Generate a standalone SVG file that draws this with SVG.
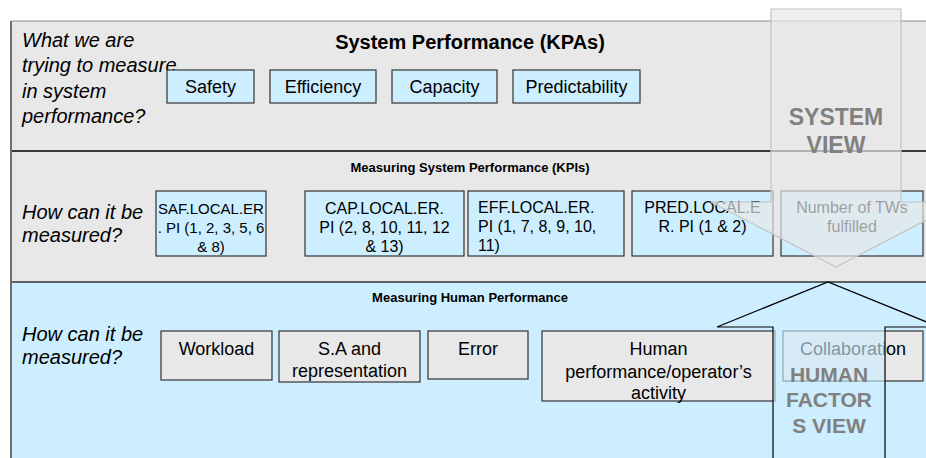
<svg xmlns="http://www.w3.org/2000/svg" width="926" height="458" viewBox="0 0 926 458">
<style>
text{font-family:"Liberation Sans",Arial,sans-serif;}
.q{font-style:italic;font-size:20px;fill:#000;}
.h{font-weight:bold;font-size:13px;text-anchor:middle;}
.kb{fill:#cceeff;stroke:#333;stroke-width:1.2;}
.gb{fill:#e8e8e8;stroke:#333;stroke-width:1.2;}
.t18{font-size:18px;text-anchor:middle;}
.t16{font-size:16px;text-anchor:middle;}
.view{font-weight:bold;fill:#808080;text-anchor:middle;}
</style>
<rect width="926" height="458" fill="#fff"/>
<g id="panel-kpa">
<rect x="11" y="21" width="915" height="130" fill="#e8e8e8"/>
<line x1="11" y1="21" x2="926" y2="21" stroke="#8c8c8c" stroke-width="1.2"/>
<text class="q" x="22" y="47">What we are</text>
<text class="q" x="22" y="72">trying to measure</text>
<text class="q" x="22" y="98">in system</text>
<text class="q" x="22" y="123">performance?</text>
<text x="470" y="49" font-size="20" font-weight="bold" text-anchor="middle">System Performance (KPAs)</text>
</g>
<g id="panel-kpi">
<rect x="11" y="151" width="915" height="131" fill="#e8e8e8"/>
<text class="h" x="470" y="172">Measuring System Performance (KPIs)</text>
<text class="q" x="22" y="219">How can it be</text>
<text class="q" x="22" y="242">measured?</text>
</g>
<g id="panel-human">
<rect x="11" y="282" width="915" height="176" fill="#cceeff"/>
<text class="h" x="470" y="302">Measuring Human Performance</text>
<text class="q" x="22" y="341">How can it be</text>
<text class="q" x="22" y="364">measured?</text>
</g>
<line x1="11" y1="151" x2="926" y2="151" stroke="#000" stroke-width="1.5"/>
<line x1="11" y1="282" x2="926" y2="282" stroke="#333" stroke-width="1.5"/>
<line x1="11" y1="21" x2="11" y2="458" stroke="#6e6e6e" stroke-width="2"/>

<g id="kpa-safety"><rect class="kb" x="167" y="70" width="87" height="33"/><text class="t18" x="210.5" y="93">Safety</text></g>
<g id="kpa-efficiency"><rect class="kb" x="270" y="70" width="106" height="33"/><text class="t18" x="323" y="93">Efficiency</text></g>
<g id="kpa-capacity"><rect class="kb" x="392" y="70" width="105" height="33"/><text class="t18" x="444.5" y="93">Capacity</text></g>
<g id="kpa-predictability"><rect class="kb" x="513" y="70" width="127" height="33"/><text class="t18" x="576.5" y="93">Predictability</text></g>

<g id="kpi-saf"><rect class="kb" x="156" y="191" width="110" height="65"/>
<text x="211" y="214" font-size="15" text-anchor="middle">SAF.LOCAL.ER</text>
<text x="211" y="233" font-size="15" text-anchor="middle">. PI (1, 2, 3, 5, 6</text>
<text x="211" y="252" font-size="15" text-anchor="middle">&amp; 8)</text></g>
<g id="kpi-cap"><rect class="kb" x="305" y="191" width="159" height="65"/>
<text class="t16" x="384.5" y="214">CAP.LOCAL.ER.</text>
<text class="t16" x="384.5" y="233">PI (2, 8, 10, 11, 12</text>
<text class="t16" x="384.5" y="252">&amp; 13)</text></g>
<g id="kpi-eff"><rect class="kb" x="468" y="191" width="156" height="65"/>
<text x="478" y="213" font-size="16">EFF.LOCAL.ER.</text>
<text x="478" y="232" font-size="16">PI (1, 7, 8, 9, 10,</text>
<text x="478" y="251" font-size="16">11)</text></g>
<g id="kpi-pred"><rect class="kb" x="632" y="191" width="141" height="65"/>
<text class="t16" x="702.5" y="213">PRED.LOCAL.E</text>
<text class="t16" x="702.5" y="232">R. PI (1 &amp; 2)</text></g>
<g id="kpi-tws"><rect class="kb" x="781" y="191" width="142" height="65"/>
<text class="t16" x="852" y="213">Number of TWs</text>
<text class="t16" x="852" y="232">fulfilled</text></g>

<g id="hp-workload"><rect class="gb" x="161" y="331" width="111" height="49"/><text class="t18" x="216.5" y="355">Workload</text></g>
<g id="hp-sa"><rect class="gb" x="279" y="331" width="141" height="51"/><text class="t18" x="349.5" y="355">S.A and</text><text class="t18" x="349.5" y="377">representation</text></g>
<g id="hp-error"><rect class="gb" x="428" y="331" width="100" height="48"/><text class="t18" x="478" y="355">Error</text></g>
<g id="hp-human"><rect class="gb" x="542" y="331" width="233" height="70"/><text class="t18" x="658.5" y="355">Human</text><text class="t18" x="658.5" y="378">performance/operator’s</text><text class="t18" x="658.5" y="399">activity</text></g>
<g id="hp-collab"><rect class="gb" x="783" y="331" width="140" height="50"/><text class="t18" x="853" y="355">Collaboration</text></g>

<g id="connectors">
<g id="system-view">
<polygon points="771,9 901,9 901,202 961,202 836,267 711,202 771,202" fill="#e8e8e8" fill-opacity="0.68" stroke="#c4c4c4" stroke-width="1.2"/>
<text class="view" x="836" y="125" font-size="23">SYSTEM</text>
<text class="view" x="836" y="153" font-size="23">VIEW</text>
</g>
<g id="human-factors-view">
<polygon points="773,470 773,327 717,327 828,282 939,327 885,327 885,470" fill="#cceeff" fill-opacity="0.62" stroke="#000" stroke-width="1.2"/>
<text class="view" x="829" y="382" font-size="21">HUMAN</text>
<text class="view" x="829" y="407" font-size="21">FACTOR</text>
<text class="view" x="829" y="433" font-size="21">S VIEW</text>
</g>
</g>
</svg>
